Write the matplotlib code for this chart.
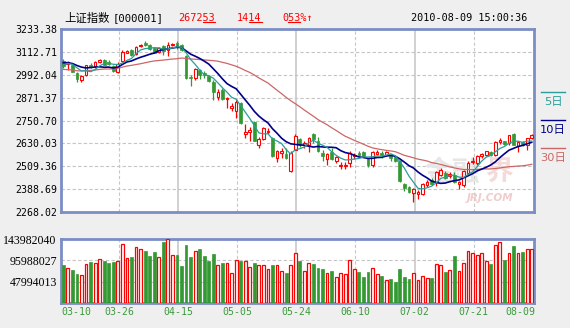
import numpy as np
import pandas as pd
import matplotlib
matplotlib.use('Agg')
import matplotlib.pyplot as plt
from matplotlib.lines import Line2D

# ---------------------------
# Daily data, 2010-03-10 .. 2010-08-09 (104 sessions)
# ---------------------------
open_ = [3063, 3050, 3043, 3002, 2964, 2990, 3046, 3039, 3058, 3072,
         3060, 3039, 3004, 3065, 3109, 3123, 3102, 3142, 3161, 3151,
         3133, 3112, 3144, 3123, 3151, 3161, 3149, 3092, 2978, 2976,
         3016, 2999, 2986, 2955, 2876, 2911, 2862, 2815, 2803, 2841,
         2679, 2689, 2745, 2623, 2654, 2688, 2661, 2554, 2579, 2574,
         2486, 2596, 2654, 2619, 2623, 2679, 2644, 2579, 2549, 2584,
         2535, 2512, 2512, 2526, 2563, 2579, 2586, 2549, 2517, 2574,
         2579, 2567, 2567, 2556, 2539, 2416, 2398, 2369, 2364, 2364,
         2412, 2436, 2426, 2465, 2474, 2457, 2465, 2416, 2408, 2474,
         2530, 2526, 2561, 2567, 2584, 2567, 2637, 2640, 2633, 2679,
         2614, 2637, 2619, 2658]
high = [3077, 3067, 3046, 3007, 2990, 3046, 3056, 3063, 3077, 3077,
        3072, 3043, 3060, 3123, 3123, 3126, 3142, 3154, 3172, 3154,
        3137, 3137, 3151, 3165, 3161, 3172, 3154, 3095, 2990, 3028,
        3025, 3011, 2990, 2964, 2916, 2920, 2876, 2841, 2859, 2846,
        2730, 2714, 2750, 2665, 2714, 2710, 2666, 2596, 2605, 2605,
        2588, 2679, 2661, 2640, 2666, 2684, 2665, 2596, 2579, 2605,
        2561, 2530, 2530, 2591, 2579, 2591, 2591, 2553, 2591, 2595,
        2591, 2591, 2574, 2561, 2544, 2421, 2404, 2395, 2386, 2421,
        2438, 2448, 2486, 2500, 2483, 2479, 2479, 2433, 2491, 2535,
        2556, 2570, 2579, 2591, 2591, 2640, 2661, 2644, 2675, 2684,
        2640, 2644, 2661, 2679]
low = [3028, 3016, 3004, 2955, 2952, 2987, 3028, 3028, 3053, 3043,
       3043, 3004, 2999, 3060, 3105, 3091, 3098, 3137, 3144, 3121,
       3105, 3107, 3095, 3091, 3144, 3130, 3116, 2972, 2935, 2964,
       2969, 2973, 2955, 2860, 2860, 2858, 2818, 2801, 2766, 2731,
       2656, 2645, 2640, 2603, 2649, 2679, 2556, 2533, 2553, 2549,
       2479, 2593, 2609, 2605, 2584, 2633, 2584, 2535, 2518, 2544,
       2526, 2496, 2496, 2503, 2549, 2561, 2556, 2503, 2503, 2570,
       2553, 2561, 2535, 2532, 2428, 2378, 2369, 2320, 2339, 2360,
       2398, 2409, 2404, 2457, 2440, 2445, 2421, 2391, 2400, 2465,
       2521, 2517, 2553, 2561, 2565, 2561, 2628, 2619, 2623, 2619,
       2584, 2614, 2596, 2652]
close = [3039, 3058, 3008, 2969, 2987, 3043, 3034, 3060, 3072, 3046,
         3048, 3011, 3051, 3112, 3119, 3095, 3139, 3150, 3147, 3130,
         3109, 3133, 3118, 3151, 3156, 3139, 3121, 2976, 2973, 3025,
         2990, 2990, 2960, 2903, 2903, 2862, 2871, 2829, 2850, 2736,
         2692, 2701, 2644, 2654, 2710, 2696, 2561, 2591, 2588, 2553,
         2579, 2671, 2619, 2631, 2661, 2654, 2591, 2565, 2574, 2549,
         2556, 2517, 2517, 2579, 2570, 2567, 2561, 2514, 2586, 2586,
         2567, 2584, 2553, 2535, 2431, 2395, 2374, 2390, 2374, 2416,
         2426, 2416, 2478, 2491, 2448, 2469, 2426, 2426, 2483, 2526,
         2539, 2561, 2574, 2588, 2570, 2635, 2649, 2626, 2672, 2623,
         2637, 2619, 2658.39, 2672.53]
# closes of the 29 sessions before the first bar (only feed the moving averages)
close_before = [3090, 3060, 3094, 3020, 2986, 3010, 2989, 2981, 2981, 3042,
                3003, 2939, 2936, 2949, 2982, 3018, 3018, 2993, 2972, 2981,
                3060, 3051, 3073, 3073, 3087, 3014, 3031, 3060, 3070]
volume = [85.0, 79.8, 73.9, 64.9, 62.7, 87.3, 92.5, 89.5, 98.5, 94.0,
          89.5, 92.5, 94.0, 132.0, 102.0, 104.0, 127.0, 122.0, 117.0, 106.0,
          114.0, 104.0, 137.0, 143.98204, 107.0, 107.0, 82.8, 130.0, 103.0, 116.0,
          121.0, 105.0, 94.0, 110.0, 85.0, 90.0, 89.5, 67.0, 96.0, 94.7,
          94.0, 82.0, 89.5, 85.0, 85.0, 76.0, 85.0, 85.0, 72.4, 68.6,
          85.0, 111.9, 94.0, 70.9, 89.5, 87.3, 79.8, 76.1, 67.1, 71.6,
          57.4, 67.1, 64.9, 96.2, 76.1, 69.4, 58.2, 69.4, 79.8, 64.9,
          60.4, 51.5, 53.7, 47.0, 76.1, 58.2, 53.7, 68.6, 51.5, 61.2,
          56.7, 56.0, 87.3, 85.0, 70.1, 73.9, 105.9, 71.6, 89.5, 117.9,
          113.4, 107.4, 113.4, 94.0, 87.3, 129.8, 138.0, 96.2, 113.4, 127.6,
          111.9, 114.1, 120.9, 120.9]  # millions

date_labels = ['03-10', '03-26', '04-15', '05-05', '05-24', '06-10', '07-02', '07-21', '08-09']
date_index = [0, 12, 25, 38, 51, 64, 77, 90, 103]

price_low, price_high = 2268.02, 3233.38
vol_top = 143982040

RED = '#ff0000'
GREEN = '#339933'
FRAME = '#7b8dc3'
MA_COLORS = {5: '#2a9d9a', 10: '#000088', 30: '#cc6666'}
MONO = 'DejaVu Sans Mono'

# moving averages on the full close history
full_close = pd.Series(close_before + close, dtype=float)
n = len(close)
ma = {w: full_close.rolling(w).mean().to_numpy()[-n:] for w in (5, 10, 30)}

o = np.array(open_, dtype=float)
h = np.array(high, dtype=float)
l = np.array(low, dtype=float)
c = np.array(close, dtype=float)
v = np.array(volume) * 1e6
x = np.arange(n)
up = c >= o

W, H = 570, 328
fig = plt.figure(figsize=(W / 100, H / 100), dpi=100, facecolor='#efefef')


def px_rect(left, top, right, bottom):
    return [left / W, 1 - bottom / H, (right - left) / W, (bottom - top) / H]


ax = fig.add_axes(px_rect(61, 29, 534, 212))
axv = fig.add_axes(px_rect(61, 239, 534, 303))

for a in (ax, axv):
    a.set_facecolor('white')
    a.set_xlim(-0.5, n - 0.5)
    for s in a.spines.values():
        s.set_color(FRAME)
        s.set_linewidth(2)
    a.tick_params(length=0, pad=3)
    a.set_xticks([])
    # vertical guides: dashed / solid alternating
    for k, idx in enumerate(date_index[1:-1]):
        if k % 2 == 0:
            a.axvline(idx + 0.25, color='#c8c8c8', lw=0.8, ls=(0, (3, 2)), zorder=0)
        else:
            a.axvline(idx + 0.25, color='#c8c8c8', lw=1.2, zorder=0)

# ---------------------------
# Price panel
# ---------------------------
ax.set_ylim(price_low, price_high)
yt = [price_low + k * (price_high - price_low) / 8 for k in range(9)]
ax.set_yticks(yt)
ax.set_yticklabels([f'{t:.2f}' for t in yt], fontsize=7.1, family=MONO)
for t in yt[1:-1]:
    ax.axhline(t, color='#c4c4c4', lw=0.8, ls=(0, (3, 2)), zorder=0)

# faint site watermark in the lower right of the price panel (pixel positions)
ax.text(424 / W, 1 - 181 / H, '金融', transform=fig.transFigure, fontsize=20,
        family='Noto Sans CJK SC', color='#e6e6e6', ha='left', va='baseline',
        fontweight='bold', zorder=0.5)
ax.text(485 / W, 1 - 181 / H, '界', transform=fig.transFigure, fontsize=20,
        family='Noto Sans CJK SC', color='#f5dada', ha='left', va='baseline',
        fontweight='bold', zorder=0.5)
ax.text(490 / W, 1 - 201 / H, 'JRJ.COM', transform=fig.transFigure, fontsize=7.5,
        color='#f0cccc', ha='center', va='baseline', style='italic',
        fontweight='bold', zorder=0.5)

bw = 0.6
# green candles: filled body, full wick
g = ~up
ax.vlines(x[g], l[g], h[g], color=GREEN, lw=0.9, zorder=3)
ax.bar(x[g], (o - c)[g], bottom=c[g], width=bw, color=GREEN, edgecolor=GREEN, lw=0.5, zorder=3)
# red candles: hollow body, wick outside body
ax.vlines(x[up], l[up], o[up], color=RED, lw=0.9, zorder=3)
ax.vlines(x[up], c[up], h[up], color=RED, lw=0.9, zorder=3)
ax.bar(x[up], (c - o)[up], bottom=o[up], width=bw, facecolor='white', edgecolor=RED, lw=0.8, zorder=3)

for w in (30, 10, 5):
    ax.plot(x, ma[w], color=MA_COLORS[w], lw=1.2 if w == 10 else 0.9, zorder=4)

# ---------------------------
# Volume panel
# ---------------------------
axv.set_ylim(0, vol_top)
vt = [vol_top / 3, vol_top * 2 / 3, vol_top]
axv.set_yticks(vt)
axv.set_yticklabels([str(int(round(t))) for t in vt], fontsize=8.6, family='Liberation Serif')
for t in vt[:2]:
    axv.axhline(t, color='#c4c4c4', lw=0.8, ls=(0, (3, 2)), zorder=0)
vb = 0.62
axv.bar(x[g], v[g], width=vb, color=GREEN, edgecolor=GREEN, lw=0.5, zorder=3)
axv.bar(x[up], v[up], width=vb, facecolor='white', edgecolor=RED, lw=0.9, zorder=3)

# date labels under the volume panel
for lab, idx in zip(date_labels, date_index):
    if idx == 0:
        fig.text(61 / W, 1 - 312 / H, lab, ha='left', va='center', fontsize=7.1, family=MONO, color='#3c9a3c')
    elif idx == n - 1:
        fig.text(535 / W, 1 - 312 / H, lab, ha='right', va='center', fontsize=7.1, family=MONO, color='#3c9a3c')
    else:
        fig.text(61 / W + (idx + 0.75) * (473 / n) / W, 1 - 312 / H, lab, ha='center', va='center',
                 fontsize=7.1, family=MONO, color='#3c9a3c')

# ---------------------------
# Header
# ---------------------------
hy = 1 - 18 / H
fig.text(64 / W, hy, '上证指数', ha='left', va='center', fontsize=8.2, family='Noto Sans CJK SC')
fig.text(113 / W, hy, '[000001]', ha='left', va='center', fontsize=7.6, family=MONO)
header_nums = [(178, '267253'), (237, '1414'), (282, '053%↑')]
num_texts = []
for px, s in header_nums:
    t = fig.text(px / W, hy, s, ha='left', va='center', fontsize=7.3, family=MONO, color=RED)
    num_texts.append((t, s))
fig.text(527 / W, hy, '2010-08-09 15:00:36', ha='right', va='center', fontsize=7.3, family=MONO)

# underline the decimal digits of the quote figures
fig.canvas.draw()
renderer = fig.canvas.get_renderer()
for (t, s), first in zip(num_texts, [4, 2, 1]):
    bb = t.get_window_extent(renderer)
    cw = bb.width / len(s)
    x0 = bb.x0 + first * cw
    x1 = bb.x0 + (first + 2) * cw
    yy = bb.y0 + 1
    fig.add_artist(Line2D([x0 / W, x1 / W], [yy / H, yy / H], transform=fig.transFigure,
                          color=RED, lw=0.8))

# moving-average key on the right
for yline, label, w in [(92, '5日', 5), (120, '10日', 10), (148, '30日', 30)]:
    fig.add_artist(Line2D([541 / W, 565 / W], [1 - yline / H, 1 - yline / H],
                          transform=fig.transFigure, color=MA_COLORS[w], lw=1.0))
    fig.text(553 / W, 1 - (yline + 9.5) / H, label, ha='center', va='center', fontsize=8.2,
             family=['DejaVu Sans', 'Noto Sans CJK SC'], color=MA_COLORS[w])

fig.savefig('out.png', dpi=100, facecolor=fig.get_facecolor())
